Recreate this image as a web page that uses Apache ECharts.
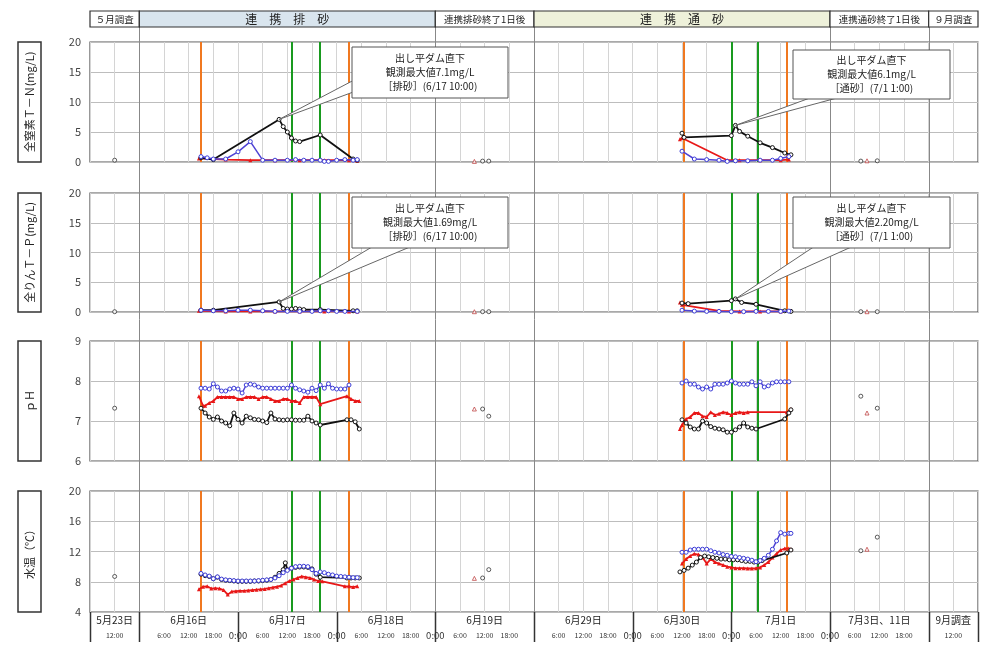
<!DOCTYPE html>
<html>
<head>
<meta charset="utf-8">
<script src="https://cdn.jsdelivr.net/npm/echarts@6/dist/echarts.min.js"></script>
<style>html,body{margin:0;background:#fff}#main{width:988px;height:645px}</style>
</head>
<body>
<div id="main"></div>
<script>
// x軸は「5月23日」ブロック先頭からの時間(h)で表す
var blockEdges = [0, 12, 36, 60, 84, 108, 132, 156, 180, 204, 216];
var dayLabels = ['5月23日', '6月16日', '6月17日', '6月18日', '6月19日', '6月29日', '6月30日', '7月1日', '7月3日、11日', '9月調査'];
var hourPos = [6, 18, 24, 30, 36, 42, 48, 54, 60, 66, 72, 78, 84, 90, 96, 102, 114, 120, 126, 132, 138, 144, 150, 156, 162, 168, 174, 180, 186, 192, 198, 210];
var headerEdges = [0, 12, 84, 108, 180, 204, 216];
var headerLabels = ['５月調査', '連　携　排　砂', '連携排砂終了1日後', '連　携　通　砂', '連携通砂終了1日後', '９月調査'];
var majorLines = [12, 84, 108, 180, 204];
var orangeLines = [27, 63, 144.5, 169.5];
var greenLines = [49, 56, 156, 162.5];

// 全窒素 T-N
var tnBlack = [[27,0.7],[30,0.4],[46,7.1],[47,5.9],[48,5.0],[49,4.0],[50,3.5],[51,3.4],[56,4.5],[64,0.5],[65,0.3],[100,'-'],
  [144,4.8],[144.5,4.1],[156,4.4],[157,6.1],[158,5.1],[160,4.3],[163,3.2],[166,2.4],[169,1.5],[170.5,1.2]];
var tnBlue = [[27,0.9],[28.5,0.7],[30,0.5],[33,0.5],[36,1.7],[39,3.4],[42,0.3],[45,0.3],[48,0.3],[50,0.4],[52,0.3],[54,0.3],[56,0.3],[57,0.1],[58,0.1],[60,0.3],[62,0.4],[64,0.3],[65,0.4],[100,'-'],
  [144,1.8],[147,0.5],[150,0.4],[153,0.3],[155,0.1],[157,0.2],[160,0.2],[163,0.3],[166,0.3],[168,0.6],[170,0.9]];
var tnRed = [[26.5,0.6],[33,0.4],[39,0.3],[45,0.3],[51,0.3],[57,0.3],[63,0.3],[65,0.2],[100,'-'],
  [143.5,3.8],[144,4.0],[155,0.3],[158,0.3],[163,0.3],[168,0.3],[170,0.4]];
var tnOffCircle = [[6,0.3],[95.5,0.15],[97,0.15],[187.5,0.15],[191.5,0.2]];
var tnOffTri = [[93.5,0.1],[189,0.2]];

// 全りん T-P
var tpBlack = [[27,0.3],[30,0.3],[46,1.69],[47,0.6],[48,0.5],[49,0.5],[50,0.6],[51,0.5],[52,0.4],[56,0.4],[64,0.2],[65,0.2],[100,'-'],
  [144,1.5],[145.5,1.4],[156,1.9],[157,2.2],[158.5,1.6],[162,1.3],[169,0.2],[170.5,0.1]];
var tpBlue = [[27,0.3],[30,0.2],[33,0.2],[36,0.3],[39,0.3],[42,0.2],[45,0.1],[48,0.1],[51,0.1],[54,0.1],[56,0.2],[58,0.2],[60,0.1],[62,0.1],[65,0.1],[100,'-'],
  [144,0.3],[147,0.15],[150,0.1],[153,0.1],[156,0.05],[159,0.05],[162,0.1],[165,0.1],[168,0.1],[170,0.15]];
var tpRed = [[26.5,0.2],[33,0.1],[39,0.1],[45,0.1],[51,0.1],[57,0.1],[63,0.1],[65,0.1],[100,'-'],
  [143.5,1.6],[144,1.2],[153,0.2],[158,0.1],[163,0.1],[168,0.1],[170.5,0.2]];
var tpOffCircle = [[6,0.05],[95.5,0.05],[97,0.05],[187.5,0.05],[191.5,0.05]];
var tpOffTri = [[93.5,0.05],[189,0.05]];

// pH
var phBlack = [[27,7.32],[28,7.2],[29,7.1],[30,7.04],[31,7.1],[32,7.0],[33,6.95],[34,6.88],[35,7.2],[36,7.04],[37,6.95],[38,7.12],[39,7.08],[40,7.04],[41,7.03],[42,7.0],[43,6.96],[44,7.2],[45,7.05],[46,7.03],[47,7.02],[48,7.03],[49,7.03],[50,7.02],[51,7.02],[52,7.02],[53,7.12],[54,7.0],[55,6.95],[56,6.9],[62.5,7.03],[63.5,7.03],[64.5,6.98],[65.5,6.8],[100,'-'],
  [144,7.03],[145,6.95],[146,6.85],[147,6.8],[148,6.8],[149,7.0],[150,6.95],[151,6.86],[152,6.82],[153,6.8],[154,6.78],[155,6.72],[156,6.72],[157,6.78],[158,6.85],[159,6.95],[160,6.85],[161,6.82],[162,6.8],[169,7.05],[170,7.2],[170.5,7.28]];
var phBlue = [[27,7.82],[28,7.82],[29,7.8],[30,7.93],[31,7.85],[32,7.75],[33,7.75],[34,7.8],[35,7.82],[36,7.8],[37,7.7],[38,7.9],[39,7.92],[40,7.9],[41,7.85],[42,7.82],[43,7.82],[44,7.82],[45,7.82],[46,7.82],[47,7.82],[48,7.82],[49,7.9],[50,7.82],[51,7.78],[52,7.75],[53,7.72],[54,7.82],[55,7.76],[56,7.9],[57,7.82],[58,7.93],[59,7.82],[60,7.8],[61,7.8],[62,7.8],[63,7.9],[100,'-'],
  [144,7.95],[145,8.0],[146,7.92],[147,7.92],[148,7.85],[149,7.8],[150,7.85],[151,7.8],[152,7.92],[153,7.92],[154,7.92],[155,7.95],[156,8.0],[157,7.95],[158,7.92],[159,7.92],[160,7.92],[161,7.98],[162,7.88],[163,7.98],[164,7.85],[165,7.88],[166,7.95],[167,7.98],[168,7.98],[169,7.98],[170,7.98]];
var phRed = [[26.5,7.62],[27.5,7.38],[28,7.38],[29,7.45],[30,7.5],[31,7.6],[32,7.6],[33,7.6],[34,7.6],[35,7.6],[36,7.55],[37,7.55],[38,7.6],[39,7.6],[40,7.6],[41,7.55],[42,7.6],[43,7.6],[44,7.55],[45,7.5],[46,7.5],[47,7.55],[48,7.55],[49,7.5],[50,7.5],[51,7.45],[52,7.6],[53,7.6],[54,7.6],[55,7.6],[56,7.42],[62.5,7.62],[63.5,7.55],[64.5,7.5],[65.5,7.5],[100,'-'],
  [143.5,6.8],[144,6.9],[145,7.05],[146,7.1],[147,7.2],[148,7.2],[149,7.12],[150,7.1],[151,7.22],[152,7.15],[153,7.18],[154,7.22],[155,7.2],[156,7.15],[157,7.2],[158,7.22],[159,7.2],[160,7.22],[169.5,7.22],[170.5,7.3]];
var phOffCircle = [[6,7.32],[95.5,7.3],[97,7.12],[187.5,7.62],[191.5,7.32]];
var phOffTri = [[93.5,7.3],[189,7.2]];

// 水温
var wtBlack = [[27,9.0],[28,8.8],[29,8.7],[30,8.4],[31,8.6],[32,8.3],[33,8.2],[34,8.15],[35,8.1],[36,8.05],[37,8.05],[38,8.05],[39,8.05],[40,8.1],[41,8.1],[42,8.15],[43,8.2],[44,8.3],[45,8.6],[46,9.1],[47,9.6],[47.5,10.5],[48,9.6],[49,9.8],[50,9.9],[51,9.95],[52,9.95],[53,9.9],[54,9.7],[55,9.0],[56,8.6],[62.5,8.5],[63.5,8.5],[64.5,8.5],[65.5,8.5],[100,'-'],
  [143.5,9.3],[144.5,9.5],[145.5,9.8],[146.5,10.2],[147.5,10.6],[148.5,11.2],[149.5,11.4],[150.5,11.3],[151.5,11.2],[152.5,11.1],[153.5,11.0],[154.5,11.0],[155.5,10.9],[156.5,10.9],[157.5,10.9],[158.5,10.8],[159.5,10.7],[160.5,10.7],[161.5,10.6],[162.5,10.6],[163.5,10.8],[169.5,11.8],[170.5,12.2]];
var wtBlue = [[27,9.1],[28,8.9],[29,8.75],[30,8.4],[31,8.65],[32,8.35],[33,8.25],[34,8.2],[35,8.15],[36,8.1],[37,8.1],[38,8.1],[39,8.1],[40,8.1],[41,8.15],[42,8.2],[43,8.25],[44,8.3],[45,8.5],[46,8.8],[47,9.2],[48,9.5],[49,9.8],[50,10.0],[51,10.05],[52,10.05],[53,10.0],[54,9.6],[55,9.1],[56,9.3],[57,9.2],[58,9.0],[59,8.9],[60,8.75],[61,8.7],[62,8.65],[63,8.6],[64,8.55],[65,8.55],[100,'-'],
  [144,11.9],[145,11.9],[146,12.2],[147,12.3],[148,12.3],[149,12.3],[150,12.3],[151,12.1],[152,11.9],[153,11.8],[154,11.6],[155,11.5],[156,11.35],[157,11.3],[158,11.2],[159,11.1],[160,11.0],[161,10.85],[162,10.65],[163,10.8],[164,11.1],[165,11.5],[166,12.3],[167,13.4],[168,14.5],[169,14.3],[170,14.4],[170.5,14.4]];
var wtRed = [[26.5,7.0],[27.5,7.35],[28.5,7.4],[29.5,7.1],[30.5,7.15],[31.5,7.1],[32.5,6.9],[33.5,6.3],[34.5,6.7],[35.5,6.75],[36.5,6.8],[37.5,6.8],[38.5,6.85],[39.5,6.9],[40.5,6.95],[41.5,7.0],[42.5,7.05],[43.5,7.15],[44.5,7.25],[45.5,7.35],[46.5,7.5],[47.5,7.8],[48.5,8.1],[49.5,8.3],[50.5,8.5],[51.5,8.7],[52.5,8.6],[53.5,8.5],[54.5,8.3],[55.5,8.1],[56.5,8.05],[62,7.4],[63,7.4],[64,7.3],[65,7.4],[100,'-'],
  [144,10.4],[145,11.0],[146,11.4],[147,11.7],[148,11.6],[149,11.2],[150,10.4],[151,11.0],[152,10.6],[153,10.4],[154,10.2],[155,10.0],[156,9.9],[157,9.8],[158,9.8],[159,9.8],[160,9.75],[161,9.75],[162,9.8],[163,9.9],[164,10.2],[165,10.6],[166,11.2],[167,11.7],[168,12.2],[169,12.4],[170,12.4],[170.5,12.3]];
var wtOffCircle = [[6,8.7],[95.5,8.5],[97,9.6],[187.5,12.1],[191.5,13.9]];
var wtOffTri = [[93.5,8.45],[189,12.3]];

var FONT = '"Noto Sans CJK JP", "Noto Sans", sans-serif';
var gridTops = [42, 193, 341, 491];
var gridHeights = [120, 119, 120, 121];

var panels = [
  {name: '全窒素Ｔ－Ｎ(mg/L)', min: 0, max: 20, interval: 5, black: tnBlack, blue: tnBlue, red: tnRed, offC: tnOffCircle, offT: tnOffTri},
  {name: '全りんＴ－Ｐ(mg/L)', min: 0, max: 20, interval: 5, black: tpBlack, blue: tpBlue, red: tpRed, offC: tpOffCircle, offT: tpOffTri},
  {name: 'ｐＨ', min: 6, max: 9, interval: 1, black: phBlack, blue: phBlue, red: phRed, offC: phOffCircle, offT: phOffTri},
  {name: '水温（℃）', min: 4, max: 20, interval: 4, black: wtBlack, blue: wtBlue, red: wtRed, offC: wtOffCircle, offT: wtOffTri}
];

var grids = [], xAxes = [], yAxes = [], series = [];
panels.forEach(function (p, i) {
  grids.push({left: 90, right: 10, top: gridTops[i], height: gridHeights[i], show: true, borderColor: '#555', borderWidth: 1.2});
  xAxes.push({
    type: 'value', gridIndex: i, min: 0, max: 216, interval: 6,
    axisLabel: {show: false}, axisTick: {show: false}, axisLine: {show: false},
    splitLine: {lineStyle: {color: '#d4d4d4', width: 1}}
  });
  yAxes.push({
    type: 'value', gridIndex: i, min: p.min, max: p.max, interval: p.interval,
    axisLabel: {color: '#444', fontSize: 11, margin: 9, fontFamily: FONT},
    axisTick: {show: false}, axisLine: {show: false},
    splitLine: {lineStyle: {color: '#bdbdbd', width: 1}}
  });
  var vl = orangeLines.map(function (v) { return {xAxis: v, lineStyle: {color: '#f07820', width: 2, type: 'solid'}}; })
    .concat(greenLines.map(function (v) { return {xAxis: v, lineStyle: {color: '#199a1f', width: 2, type: 'solid'}}; }));
  series.push({
    type: 'line', xAxisIndex: i, yAxisIndex: i, data: p.red, symbol: 'triangle', symbolSize: 4,
    itemStyle: {color: '#e81818'}, lineStyle: {color: '#e81818', width: 1.8}, z: 3,
    markLine: {silent: true, symbol: 'none', label: {show: false}, data: vl, z: 2}
  });
  series.push({
    type: 'line', xAxisIndex: i, yAxisIndex: i, data: p.black, symbol: 'circle', symbolSize: 4,
    itemStyle: {color: '#fff', borderColor: '#111', borderWidth: 1}, lineStyle: {color: '#111', width: 1.8}, z: 4
  });
  series.push({
    type: 'line', xAxisIndex: i, yAxisIndex: i, data: p.blue, symbol: 'circle', symbolSize: 4,
    itemStyle: {color: '#fff', borderColor: '#3b3bd6', borderWidth: 1}, lineStyle: {color: '#5043d4', width: 1.5}, z: 5
  });
  series.push({
    type: 'scatter', xAxisIndex: i, yAxisIndex: i, data: p.offC, symbol: 'circle', symbolSize: 4,
    itemStyle: {color: '#fff', borderColor: '#333', borderWidth: 1}, z: 5
  });
  series.push({
    type: 'scatter', xAxisIndex: i, yAxisIndex: i, data: p.offT, symbol: 'triangle', symbolSize: 4,
    itemStyle: {color: '#fff', borderColor: '#c04848', borderWidth: 1}, z: 5
  });
});

var chart = echarts.init(document.getElementById('main'));
chart.setOption({animation: false, grid: grids, xAxis: xAxes, yAxis: yAxes, series: series});

function xp(v) { return chart.convertToPixel({xAxisIndex: 0}, v); }
function pt(gi, x, y) { return chart.convertToPixel({gridIndex: gi}, [x, y]); }

var g = [];
var plotBottom = gridTops[3] + gridHeights[3];

// ヘッダー
var headerFills = ['#fff', '#d9e5ee', '#fff', '#eef1da', '#fff', '#fff'];
for (var i = 0; i < headerLabels.length; i++) {
  var x0 = xp(headerEdges[i]), x1 = xp(headerEdges[i + 1]);
  var big = headerLabels[i].indexOf('　') >= 0;
  g.push({type: 'rect', z: 10, shape: {x: x0, y: 11, width: x1 - x0, height: 16}, style: {fill: headerFills[i], stroke: '#333', lineWidth: 1.2}});
  g.push({type: 'text', z: 11, x: (x0 + x1) / 2, y: 19.5, style: {text: headerLabels[i], align: 'center', verticalAlign: 'middle', fill: '#222', font: (big ? '12px ' : '9.5px ') + FONT}});
}

// 区間の境界線
majorLines.forEach(function (v) {
  var x = Math.round(xp(v)) + 0.5;
  g.push({type: 'line', z: 1, shape: {x1: x, y1: 27, x2: x, y2: plotBottom}, style: {stroke: '#888', lineWidth: 1}});
});
blockEdges.forEach(function (v) {
  var x = Math.round(xp(v)) + 0.5;
  g.push({type: 'line', z: 1, shape: {x1: x, y1: plotBottom, x2: x, y2: 642}, style: {stroke: '#333', lineWidth: 1.5}});
});

// 下部の日付・時刻ラベル
dayLabels.forEach(function (t, k) {
  var c = (xp(blockEdges[k]) + xp(blockEdges[k + 1])) / 2;
  g.push({type: 'text', z: 11, x: c, y: 620, style: {text: t, align: 'center', verticalAlign: 'middle', fill: '#222', font: '10px ' + FONT}});
});
hourPos.forEach(function (v) {
  var h = (v === 6 || v === 210) ? 12 : (v - 12) % 24;
  var zero = h === 0;
  g.push({type: 'text', z: 11, x: xp(v), y: 635, style: {text: h + ':00', align: 'center', verticalAlign: 'middle', fill: '#333', font: (zero ? '9.5px ' : '7px ') + FONT}});
});

// 縦軸名の枠
panels.forEach(function (p, k) {
  g.push({type: 'rect', z: 10, shape: {x: 18, y: gridTops[k], width: 23, height: gridHeights[k]}, style: {fill: '#fff', stroke: '#333', lineWidth: 1.5}});
  g.push({type: 'text', z: 11, x: 29.5, y: gridTops[k] + gridHeights[k] / 2, rotation: Math.PI / 2,
    style: {text: p.name, align: 'center', verticalAlign: 'middle', fill: '#222', font: '11px ' + FONT}});
});

// 吹き出し
function callout(gi, tipX, tipY, box, base, lines) {
  var tip = pt(gi, tipX, tipY);
  g.push({type: 'polygon', z: 20, shape: {points: [base[0], base[1], tip]}, style: {fill: '#fff', stroke: '#666', lineWidth: 1}});
  g.push({type: 'rect', z: 21, shape: {x: box[0], y: box[1], width: box[2], height: box[3]}, style: {fill: '#fff', stroke: '#555', lineWidth: 1}});
  g.push({type: 'text', z: 22, x: box[0] + box[2] / 2, y: box[1] + box[3] / 2,
    style: {text: lines.join('\n'), align: 'center', verticalAlign: 'middle', fill: '#222', lineHeight: 14, font: '10px ' + FONT}});
}
callout(0, 46, 7.1, [352, 47, 156, 51], [[356, 79], [356, 91]], ['出し平ダム直下', '観測最大値7.1mg/L', '［排砂］(6/17 10:00)']);
callout(0, 157, 6.1, [793, 50, 157, 49], [[818, 95], [848, 95]], ['出し平ダム直下', '観測最大値6.1mg/L', '［通砂］(7/1 1:00)']);
callout(1, 46, 1.69, [352, 197, 156, 51], [[377, 244], [417, 244]], ['出し平ダム直下', '観測最大値1.69mg/L', '［排砂］(6/17 10:00)']);
callout(1, 157, 2.2, [793, 197, 157, 51], [[818, 244], [858, 244]], ['出し平ダム直下', '観測最大値2.20mg/L', '［通砂］(7/1 1:00)']);

chart.setOption({graphic: g});
</script>
</body>
</html>
